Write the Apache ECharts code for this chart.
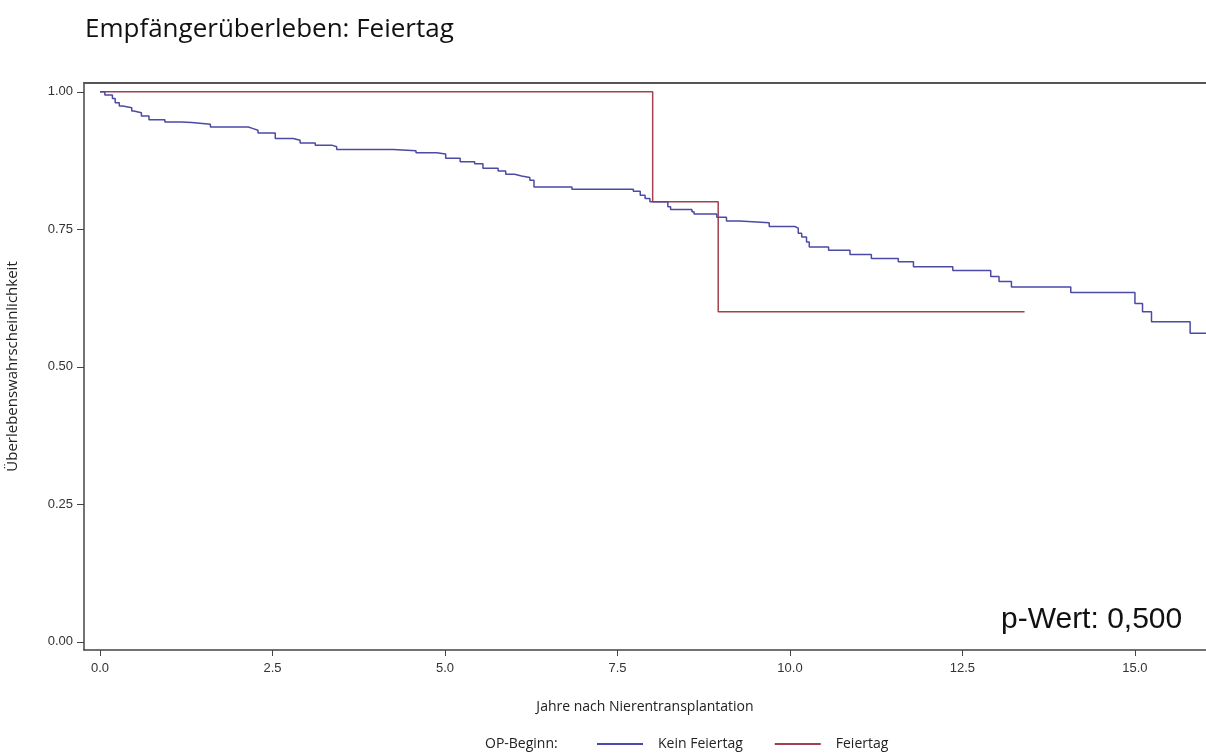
<!DOCTYPE html>
<html>
<head>
<meta charset="utf-8">
<script src="https://cdn.jsdelivr.net/npm/echarts@6/dist/echarts.min.js"></script>
<style>
  html, body { margin: 0; padding: 0; background: #ffffff; }
  #chart { width: 1206px; height: 756px; }
</style>
</head>
<body>
<div id="chart"></div>
<script>
// Kaplan-Meier estimates: [years after transplantation, survival after the event]
const keinFeiertag = [
  [0.00, 1.000], [0.07, 0.994], [0.18, 0.988], [0.22, 0.980], [0.28, 0.974],
  [0.33, 0.971], [0.46, 0.965], [0.49, 0.962], [0.60, 0.956], [0.71, 0.949],
  [0.94, 0.945], [1.18, 0.944], [1.33, 0.941], [1.60, 0.936], [2.15, 0.933],
  [2.22, 0.930], [2.29, 0.925], [2.54, 0.915], [2.80, 0.912], [2.90, 0.907],
  [3.12, 0.903], [3.36, 0.900], [3.43, 0.895], [4.25, 0.893], [4.58, 0.889],
  [4.88, 0.887], [5.01, 0.879], [5.22, 0.873], [5.43, 0.869], [5.55, 0.861],
  [5.77, 0.856], [5.88, 0.850], [6.01, 0.847], [6.11, 0.844], [6.23, 0.839],
  [6.29, 0.827], [6.84, 0.823], [7.73, 0.819], [7.83, 0.812], [7.90, 0.806],
  [7.97, 0.800], [8.23, 0.791], [8.27, 0.786], [8.58, 0.782], [8.61, 0.778],
  [8.94, 0.772], [9.08, 0.765], [9.27, 0.762], [9.70, 0.755], [10.07, 0.752],
  [10.12, 0.743], [10.17, 0.736], [10.24, 0.727], [10.28, 0.718], [10.56, 0.712],
  [10.87, 0.704], [11.18, 0.697], [11.57, 0.691], [11.79, 0.682], [12.36, 0.675],
  [12.91, 0.664], [13.03, 0.655], [13.21, 0.645], [14.07, 0.635], [15.00, 0.615],
  [15.11, 0.600], [15.24, 0.582], [15.80, 0.561], [16.03, 0.561]
];
const feiertag = [
  [0.00, 1.0], [8.01, 0.8], [8.96, 0.6], [13.40, 0.6]
];

const xTicks = [0, 2.5, 5, 7.5, 10, 12.5, 15];
const yTicks = [0, 0.25, 0.5, 0.75, 1];

const chartTitle = 'Empfängerüberleben: Feiertag';
const xName = 'Jahre nach Nierentransplantation';
const yName = 'Überlebenswahrscheinlichkeit';
const legendTitle = 'OP-Beginn:';
const seriesNames = ['Kein Feiertag', 'Feiertag'];
const pValueText = 'p-Wert: 0,500';

const BLUE = '#4b4aa6';
const RED = '#a2414f';
const AXIS = '#444444';
const LABEL = '#333333';
const X_MIN = -0.232;
const X_MAX = 16.03;

const chart = echarts.init(document.getElementById('chart'), null, { renderer: 'canvas' });

chart.setOption({
  backgroundColor: '#ffffff',
  animation: false,
  title: {
    text: chartTitle,
    left: 85,
    top: 17,
    padding: 0,
    textStyle: { fontFamily: 'Open Sans', fontSize: 26, fontWeight: 'normal', color: '#111111' }
  },
  legend: {
    left: 597,
    top: 737,
    padding: 0,
    itemWidth: 46,
    itemHeight: 2,
    itemGap: 32,
    icon: 'rect',
    textStyle: { fontFamily: 'Open Sans', fontSize: 14, color: '#222222', padding: [0, 0, 0, 10] },
    data: seriesNames
  },
  grid: {
    left: 84,
    right: 0,
    top: 83,
    bottom: 106,
    show: false,
    containLabel: false,
    outerBoundsMode: 'none'
  },
  xAxis: [
    {
      type: 'value',
      min: X_MIN,
      max: X_MAX,
      splitLine: { show: false },
      axisLine: { show: true, onZero: false, lineStyle: { color: AXIS, width: 1.5 } },
      axisTick: { show: true, length: 6, customValues: xTicks, lineStyle: { color: AXIS } },
      axisLabel: {
        customValues: xTicks,
        margin: 12,
        fontFamily: 'Liberation Sans',
        fontSize: 13,
        color: LABEL,
        formatter: v => v.toFixed(1)
      },
      name: xName,
      nameLocation: 'middle',
      nameGap: 50,
      nameTextStyle: { fontFamily: 'Open Sans', fontSize: 14, color: '#222222' }
    },
    {
      // top frame line
      type: 'value',
      position: 'top',
      min: X_MIN,
      max: X_MAX,
      splitLine: { show: false },
      axisLine: { show: true, onZero: false, lineStyle: { color: '#555555', width: 2 } },
      axisTick: { show: false },
      axisLabel: { show: false }
    }
  ],
  yAxis: {
    type: 'value',
    min: -0.015,
    max: 1.016,
    splitLine: { show: false },
    axisLine: { show: true, onZero: false, lineStyle: { color: AXIS, width: 1.5 } },
    axisTick: { show: true, length: 7, customValues: yTicks, lineStyle: { color: AXIS } },
    axisLabel: {
      customValues: yTicks,
      margin: 11,
      fontFamily: 'Liberation Sans',
      fontSize: 13,
      color: LABEL,
      formatter: v => v.toFixed(2)
    },
    name: yName,
    nameLocation: 'middle',
    nameGap: 64,
    nameRotate: 90,
    nameTextStyle: { fontFamily: 'Open Sans', fontSize: 15, color: '#222222' }
  },
  graphic: [
    {
      type: 'text',
      left: 485,
      top: 737,
      style: { text: legendTitle, fontFamily: 'Open Sans', fontSize: 14, fill: '#222222' }
    },
    {
      type: 'text',
      left: 1001,
      top: 605,
      style: { text: pValueText, fontFamily: 'Liberation Sans', fontSize: 30, fill: '#111111' }
    }
  ],
  series: [
    {
      name: seriesNames[0],
      type: 'line',
      step: 'end',
      data: keinFeiertag,
      symbol: 'none',
      lineStyle: { color: BLUE, width: 1.5 },
      itemStyle: { color: BLUE },
      z: 3
    },
    {
      name: seriesNames[1],
      type: 'line',
      step: 'end',
      data: feiertag,
      symbol: 'none',
      lineStyle: { color: RED, width: 1.5 },
      itemStyle: { color: RED },
      z: 2
    }
  ]
});
</script>
</body>
</html>
